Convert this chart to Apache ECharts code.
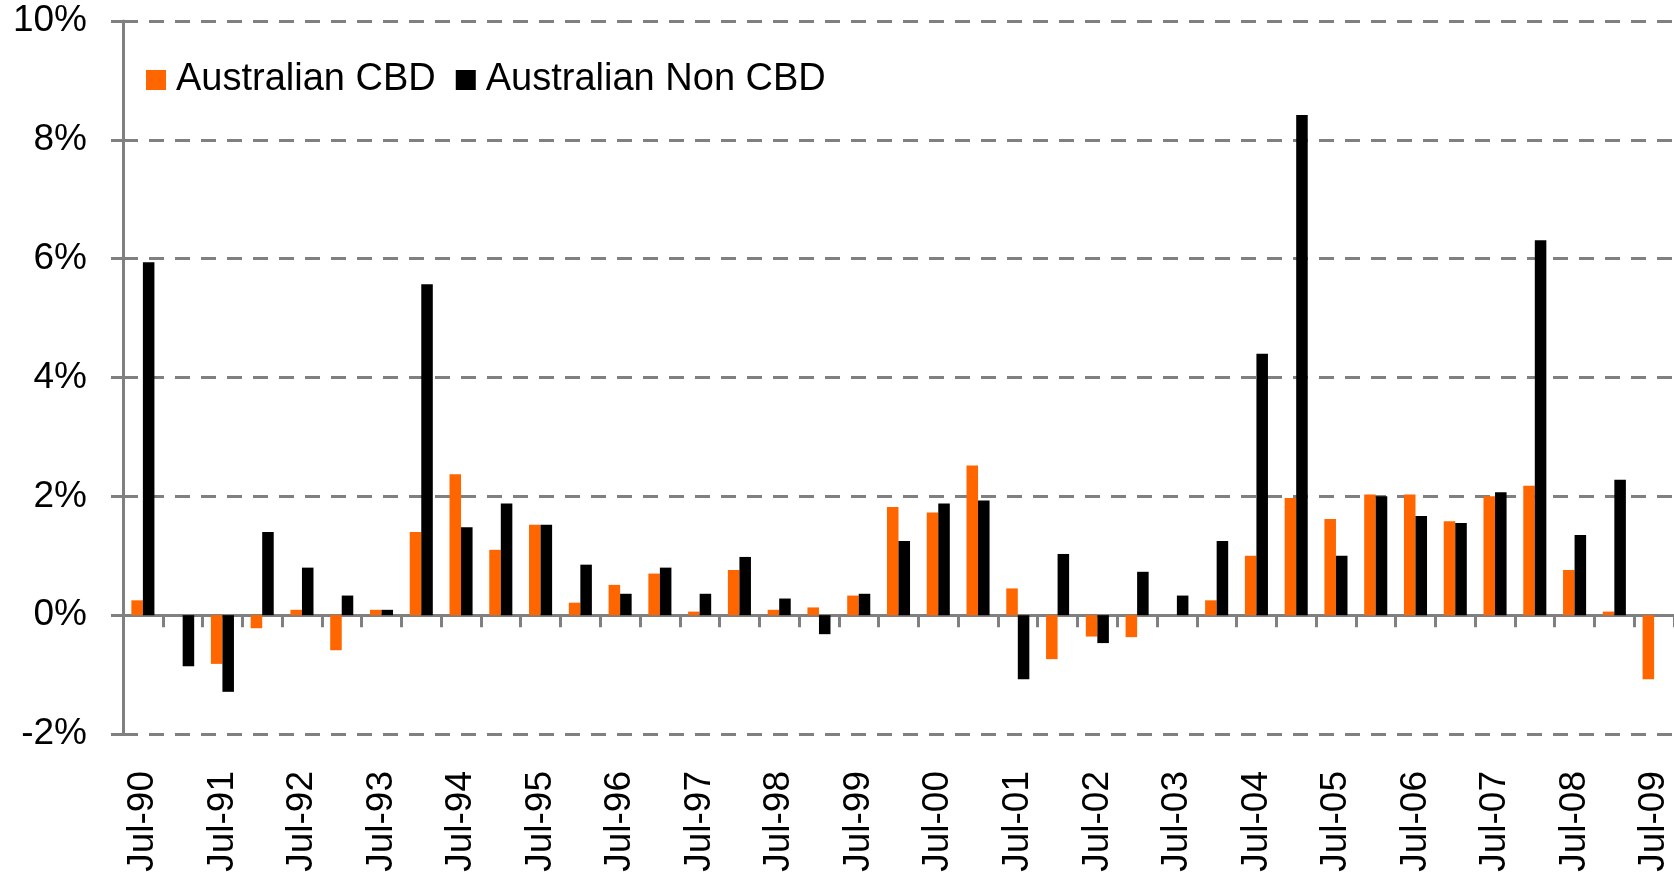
<!DOCTYPE html>
<html>
<head>
    <meta charset="utf-8">
    <title>Australian CBD vs Non CBD</title>
    <script src="https://cdn.jsdelivr.net/npm/echarts@6/dist/echarts.min.js"></script>
    <style type="text/css">
        * { margin: 0; padding: 0; }
        body { background: #fff; }
    </style>
</head>
<body>
<div id="main" style="width: 1674px; height: 878px;"></div>
<script type="text/javascript">
    // half-yearly periods, Jul-90 .. Jul-09
    var categories = [
        'Jul-90', 'Jan-91', 'Jul-91', 'Jan-92', 'Jul-92', 'Jan-93', 'Jul-93', 'Jan-94',
        'Jul-94', 'Jan-95', 'Jul-95', 'Jan-96', 'Jul-96', 'Jan-97', 'Jul-97', 'Jan-98',
        'Jul-98', 'Jan-99', 'Jul-99', 'Jan-00', 'Jul-00', 'Jan-01', 'Jul-01', 'Jan-02',
        'Jul-02', 'Jan-03', 'Jul-03', 'Jan-04', 'Jul-04', 'Jan-05', 'Jul-05', 'Jan-06',
        'Jul-06', 'Jan-07', 'Jul-07', 'Jan-08', 'Jul-08', 'Jan-09', 'Jul-09'
    ];

    var cbd = [
        0.25, null, -0.82, -0.22, 0.09, -0.59, 0.09, 1.40,
        2.37, 1.10, 1.52, 0.21, 0.51, 0.70, 0.06, 0.76,
        0.09, 0.13, 0.33, 1.82, 1.73, 2.52, 0.45, -0.74,
        -0.36, -0.37, null, 0.25, 1.00, 1.97, 1.62, 2.03,
        2.03, 1.58, 2.00, 2.18, 0.76, 0.06, -1.08
    ];

    var nonCbd = [
        5.94, -0.86, -1.29, 1.40, 0.80, 0.33, 0.09, 5.57,
        1.48, 1.88, 1.52, 0.85, 0.36, 0.80, 0.36, 0.98,
        0.28, -0.32, 0.36, 1.25, 1.88, 1.93, -1.08, 1.03,
        -0.47, 0.73, 0.33, 1.25, 4.40, 8.42, 1.00, 2.00,
        1.67, 1.55, 2.07, 6.31, 1.35, 2.28, null
    ];

    var seriesNames = ['Australian CBD', 'Australian Non CBD'];
    var yTicks = { min: -2, max: 10, step: 2 };

    var myChart = echarts.init(document.getElementById('main'));

    var option = {
        animation: false,
        color: ['#FF6600', '#000000'],
        textStyle: { fontFamily: 'Liberation Sans, Arial, sans-serif' },
        legend: {
            left: 141,
            top: 56,
            itemWidth: 20,
            itemHeight: 20,
            itemGap: 20,
            icon: 'rect',
            textStyle: {
                color: '#000',
                fontSize: 38,
                padding: [0, 0, 0, 5]
            },
            data: seriesNames
        },
        grid: {
            left: 123,
            right: 0,
            top: 21,
            bottom: 144
        },
        xAxis: [
            {
                // zero line with the category ticks
                type: 'category',
                data: categories,
                position: 'bottom',
                axisLine: {
                    onZero: true,
                    lineStyle: { color: '#808080', width: 3 }
                },
                axisTick: {
                    show: true,
                    length: 12,
                    interval: 0,
                    lineStyle: { color: '#808080', width: 3 }
                },
                axisLabel: { show: false },
                splitLine: { show: false }
            },
            {
                // labels along the bottom
                type: 'category',
                data: categories,
                position: 'bottom',
                axisLine: { show: false, onZero: false },
                axisTick: { show: false },
                axisLabel: {
                    interval: 1,
                    rotate: 90,
                    margin: 37,
                    color: '#000',
                    fontSize: 37
                },
                splitLine: { show: false }
            }
        ],
        yAxis: {
            type: 'value',
            min: yTicks.min,
            max: yTicks.max,
            interval: yTicks.step,
            axisLine: {
                show: true,
                lineStyle: { color: '#808080', width: 3 }
            },
            axisTick: {
                show: true,
                length: 12,
                lineStyle: { color: '#808080', width: 3 }
            },
            axisLabel: {
                margin: 36,
                color: '#000',
                fontSize: 37,
                formatter: '{value}%'
            },
            splitLine: {
                lineStyle: {
                    color: '#808080',
                    width: 3,
                    type: [15, 11]
                }
            }
        },
        series: [
            {
                name: seriesNames[0],
                type: 'bar',
                xAxisIndex: 0,
                barGap: 0,
                barCategoryGap: '42%',
                data: cbd
            },
            {
                name: seriesNames[1],
                type: 'bar',
                xAxisIndex: 0,
                barGap: 0,
                barCategoryGap: '42%',
                data: nonCbd
            }
        ]
    };

    myChart.setOption(option);

    window.addEventListener('resize', function () {
        myChart.resize();
    });
</script>
</body>
</html>
